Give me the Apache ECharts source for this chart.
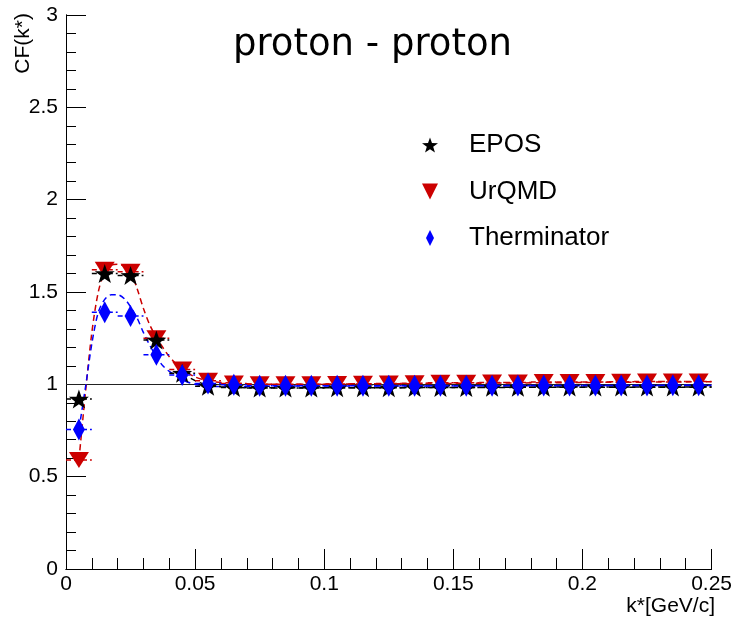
<!DOCTYPE html>
<html>
<head>
<meta charset="utf-8">
<script src="https://cdn.jsdelivr.net/npm/echarts@6/dist/echarts.min.js"></script>
<style>html,body{margin:0;padding:0;background:#fff}#c{width:735px;height:620px}</style>
</head>
<body>
<div id="c"></div>
<script>
// ---- data ----
const binCenters = [0.005,0.015,0.025,0.035,0.045,0.055,0.065,0.075,0.085,0.095,0.105,0.115,0.125,0.135,0.145,0.155,0.165,0.175,0.185,0.195,0.205,0.215,0.225,0.235,0.245];
const eposCF   = [0.92,1.60,1.59,1.24,1.06,0.99,0.983,0.98,0.98,0.98,0.982,0.982,0.982,0.983,0.983,0.983,0.984,0.984,0.984,0.985,0.985,0.985,0.985,0.985,0.985];
const urqmdCF  = [0.59,1.62,1.61,1.25,1.08,1.02,1.005,1.0,1.0,1.0,1.002,1.003,1.005,1.006,1.008,1.008,1.01,1.01,1.012,1.012,1.013,1.014,1.015,1.015,1.016];
const thermCF  = [0.755,1.39,1.37,1.16,1.05,1.005,0.998,0.993,0.992,0.992,0.992,0.992,0.993,0.993,0.993,0.993,0.993,0.994,0.994,0.994,0.994,0.994,0.994,0.995,0.995];
const eposErr  = [0.012,0.01,0.01,0.008,0.005,0.004,0.003,0.003,0.003,0.003,0.003,0.003,0.003,0.003,0.003,0.003,0.003,0.003,0.003,0.003,0.003,0.003,0.003,0.003,0.003];
const urqmdErr = [0.012,0.01,0.01,0.008,0.005,0.004,0.003,0.003,0.003,0.003,0.003,0.003,0.003,0.003,0.003,0.003,0.003,0.003,0.003,0.003,0.003,0.003,0.003,0.003,0.003];
const thermErr = [0.035,0.02,0.02,0.015,0.008,0.005,0.004,0.003,0.003,0.003,0.003,0.003,0.003,0.003,0.003,0.003,0.003,0.003,0.003,0.003,0.003,0.003,0.003,0.003,0.003];

// fitted/model curves (dashed)
const urqmdCurveX = [0.005,0.0075,0.01,0.0125,0.015,0.0175,0.02,0.0225,0.025,0.0275,0.03,0.0325,0.035,0.0375,0.04,0.045,0.05,0.055,0.06,0.08,0.12,0.16,0.2,0.25];
const urqmdCurveY = [0.59,0.95,1.28,1.50,1.61,1.645,1.65,1.64,1.61,1.52,1.41,1.32,1.255,1.20,1.15,1.08,1.04,1.02,1.01,1.0,1.003,1.006,1.01,1.014];
const thermCurveX = [0.005,0.0075,0.01,0.0125,0.015,0.0175,0.02,0.0225,0.025,0.0275,0.03,0.0325,0.035,0.0375,0.04,0.045,0.05,0.055,0.06,0.08,0.12,0.16,0.2,0.25];
const thermCurveY = [0.755,0.98,1.22,1.39,1.46,1.485,1.485,1.465,1.42,1.36,1.28,1.21,1.15,1.10,1.07,1.025,1.0,0.99,0.988,0.99,0.991,0.992,0.993,0.994];
const eposCurveX  = [0.045,0.05,0.055,0.06,0.07,0.1,0.15,0.2,0.25];
const eposCurveY  = [1.06,1.02,0.995,0.987,0.982,0.981,0.983,0.984,0.985];

const xTickLabels = ['0','0.05','0.1','0.15','0.2','0.25'];
const yTickLabels = ['0','0.5','1','1.5','2','2.5','3'];
const titleText = 'proton - proton';
const xTitle = 'k*[GeV/c]';
const yTitle = 'CF(k*)';
const names = ['EPOS','UrQMD','Therminator'];

// ---- styling ----
const binHalf = 0.005;
const starPath = 'path://M0,-10 L2.35,-3.24 L9.51,-3.09 L3.8,1.24 L5.88,8.09 L0,4 L-5.88,8.09 L-3.8,1.24 L-9.51,-3.09 L-2.35,-3.24 Z';
const triPath = 'path://M0,0 L12,0 L6,12 Z';
const diaPath = 'path://M5,0 L10,10 L5,20 L0,10 Z';
const cBlack = '#000000', cRed = '#cc0000', cBlue = '#0000ff';
const FONT = 'Liberation Sans, Arial, Helvetica, sans-serif';

function pairs(xs, ys){ return xs.map((x,i)=>[x, ys[i]]); }

function errBars(name, color, vals, errs, z){
  return {
    type:'custom', name:name+'_err', z:z, silent:true,
    data: binCenters.map((x,i)=>[x, vals[i], errs[i]]),
    encode:{x:0, y:1},
    renderItem: function(params, api){
      const x = api.value(0), y = api.value(1), e = api.value(2);
      const pL = api.coord([x-binHalf, y]), pR = api.coord([x+binHalf, y]);
      const pT = api.coord([x, y+e]), pB = api.coord([x, y-e]);
      return {type:'group', children:[
        {type:'line', shape:{x1:pL[0],y1:pL[1],x2:pR[0],y2:pR[1]}, style:{stroke:color, lineWidth:1.5, lineDash:[5,3]}},
        {type:'line', shape:{x1:pT[0],y1:pT[1],x2:pB[0],y2:pB[1]}, style:{stroke:color, lineWidth:1.5}}
      ]};
    }
  };
}
function curve(name, color, xs, ys){
  return {type:'line', name:name, data:pairs(xs,ys), smooth:0.3, showSymbol:false, silent:true, z:2,
    lineStyle:{color:color, width:1.5, type:[6,4]}};
}

const chart = echarts.init(document.getElementById('c'), null, {renderer:'canvas'});
chart.setOption({
  animation:false,
  backgroundColor:'#fff',
  grid:{left:66, right:20, top:15, bottom:51},
  xAxis:[{
    type:'value', min:0, max:0.25, interval:0.05,
    axisLine:{lineStyle:{color:'#000', width:1}},
    axisTick:{inside:true, length:20, lineStyle:{color:'#000'}},
    minorTick:{show:true, splitNumber:5, length:11, lineStyle:{color:'#000'}},
    splitLine:{show:false},
    axisLabel:{color:'#000', fontFamily:FONT, fontSize:21, margin:5,
      formatter: v => xTickLabels[Math.round(v/0.05)]}
  },{
    type:'value', position:'top', min:0, max:0.25,
    axisLine:{show:true, lineStyle:{color:'#000', width:1}},
    axisTick:{show:false}, axisLabel:{show:false}, splitLine:{show:false}
  }],
  yAxis:[{
    type:'value', min:0, max:3, interval:0.5,
    axisLine:{show:true, lineStyle:{color:'#000', width:1}},
    axisTick:{show:true, inside:true, length:20, lineStyle:{color:'#000'}},
    minorTick:{show:true, splitNumber:5, length:10, lineStyle:{color:'#000'}},
    splitLine:{show:false},
    axisLabel:{color:'#000', fontFamily:FONT, fontSize:21, margin:8,
      formatter: v => yTickLabels[Math.round(v/0.5)]}
  },{
    type:'value', position:'right', min:0, max:3,
    axisLine:{show:true, lineStyle:{color:'#000', width:1}},
    axisTick:{show:false}, axisLabel:{show:false}, splitLine:{show:false}
  }],
  legend:{
    orient:'vertical', left:417, top:126, itemWidth:16, itemHeight:16, itemGap:18.5,
    selectedMode:false,
    textStyle:{fontFamily:FONT, fontSize:26, color:'#000', lineHeight:28, padding:[0,0,0,26]},
    data:[
      {name:names[0], icon:starPath, itemStyle:{color:cBlack}},
      {name:names[1], icon:triPath, itemStyle:{color:cRed}},
      {name:names[2], icon:diaPath, itemStyle:{color:cBlue}}
    ]
  },
  graphic:[
    {type:'text', x:372.5, y:45, silent:true,
      style:{text:titleText, fontFamily:'DejaVu Sans, sans-serif', fontSize:37, fill:'#000', align:'center', verticalAlign:'middle'}},
    {type:'text', x:715, y:606, silent:true,
      style:{text:xTitle, fontFamily:FONT, fontSize:21, fill:'#000', align:'right', verticalAlign:'middle'}},
    {type:'text', x:23, y:13, rotation:Math.PI/2, silent:true,
      style:{text:yTitle, fontFamily:FONT, fontSize:21, fill:'#000', align:'right', verticalAlign:'middle'}}
  ],
  series:[
    Object.assign(curve('urqmd_curve', cRed, urqmdCurveX, urqmdCurveY), {
      markLine:{silent:true, symbol:'none', label:{show:false}, z:1,
        lineStyle:{color:'#222', width:1.2, type:'solid'}, data:[{yAxis:1}]}
    }),
    curve('epos_curve', cBlack, eposCurveX, eposCurveY),
    curve('therm_curve', cBlue, thermCurveX, thermCurveY),
    errBars(names[1], cRed, urqmdCF, urqmdErr, 3),
    {type:'scatter', name:names[1], data:pairs(binCenters, urqmdCF), symbol:triPath, symbolSize:[20,16], z:3,
      itemStyle:{color:cRed, opacity:1}},
    errBars(names[0], cBlack, eposCF, eposErr, 4),
    {type:'scatter', name:names[0], data:pairs(binCenters, eposCF), symbol:starPath, symbolSize:[20,19], z:4,
      itemStyle:{color:cBlack, opacity:1}},
    errBars(names[2], cBlue, thermCF, thermErr, 5),
    {type:'scatter', name:names[2], data:pairs(binCenters, thermCF), symbol:diaPath, symbolSize:[12,22], z:5,
      itemStyle:{color:cBlue, opacity:1}}
  ]
});
</script>
</body>
</html>
